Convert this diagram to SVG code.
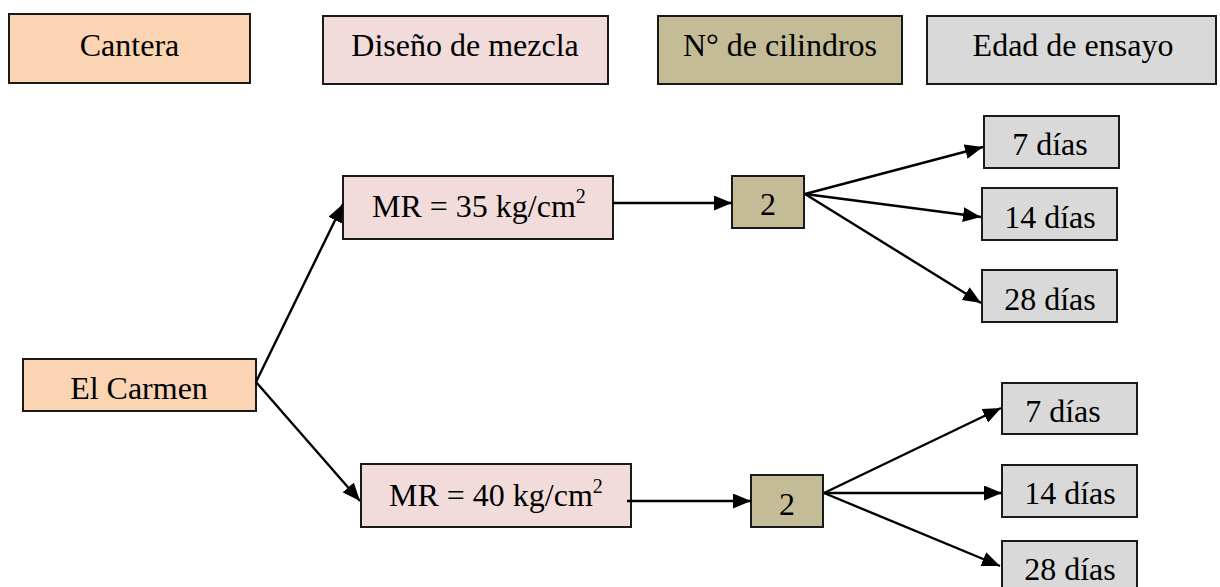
<svg xmlns="http://www.w3.org/2000/svg" width="1220" height="587" viewBox="0 0 1220 587">
  <style>
    text { font-family: "Liberation Serif", "Times New Roman", serif; font-size: 32px; fill: #000; }
    .c { text-anchor: middle; }
    .sup { font-size: 20px; }
    .box { stroke: #1a1a1a; stroke-width: 2; }
    .peach { fill: #FBD4B4; }
    .rose { fill: #F2DBDB; }
    .olive { fill: #C4BC96; }
    .grey { fill: #D9D9D9; }
    #connectors line { stroke: #000; stroke-width: 2.4; marker-end: url(#arrow); }
  </style>
  <defs>
    <marker id="arrow" markerUnits="userSpaceOnUse" markerWidth="19" markerHeight="15" refX="18" refY="7.5" orient="auto">
      <path d="M0,0 L18,7.5 L0,15 z" fill="#000"/>
    </marker>
  </defs>
  <rect width="1220" height="587" fill="#fff"/>

  <!-- column headers -->
  <g id="hdr-cantera">
    <rect class="box peach" x="9" y="14" width="241" height="69"/>
    <text class="c" x="129.5" y="56">Cantera</text>
  </g>
  <g id="hdr-diseno">
    <rect class="box rose" x="323" y="16" width="285" height="68"/>
    <text class="c" x="465" y="56">Diseño de mezcla</text>
  </g>
  <g id="hdr-cilindros">
    <rect class="box olive" x="658" y="16" width="244" height="68"/>
    <text class="c" x="780" y="56">N° de cilindros</text>
  </g>
  <g id="hdr-edad">
    <rect class="box grey" x="927" y="16" width="289" height="68"/>
    <text class="c" x="1073" y="56">Edad de ensayo</text>
  </g>

  <!-- source -->
  <g id="el-carmen">
    <rect class="box peach" x="23" y="359" width="233" height="52"/>
    <text class="c" x="139" y="399">El Carmen</text>
  </g>

  <!-- upper branch -->
  <g id="mr35">
    <rect class="box rose" x="343" y="176" width="270" height="63"/>
    <text x="372" y="217">MR = 35 kg/cm<tspan class="sup" dy="-14">2</tspan></text>
  </g>
  <g id="cil-top">
    <rect class="box olive" x="732" y="176" width="72" height="52"/>
    <text class="c" x="768" y="215">2</text>
  </g>
  <g id="top-7">
    <rect class="box grey" x="984" y="116" width="135" height="52"/>
    <text class="c" x="1050" y="155">7 días</text>
  </g>
  <g id="top-14">
    <rect class="box grey" x="982" y="188" width="135" height="52"/>
    <text class="c" x="1050" y="228">14 días</text>
  </g>
  <g id="top-28">
    <rect class="box grey" x="982" y="270" width="135" height="52"/>
    <text class="c" x="1050" y="310">28 días</text>
  </g>

  <!-- lower branch -->
  <g id="mr40">
    <rect class="box rose" x="361" y="464" width="270" height="63"/>
    <text x="389" y="506">MR = 40 kg/cm<tspan class="sup" dy="-13">2</tspan></text>
  </g>
  <g id="cil-bottom">
    <rect class="box olive" x="751" y="475" width="72" height="52"/>
    <text class="c" x="787" y="515">2</text>
  </g>
  <g id="bot-7">
    <rect class="box grey" x="1002" y="383" width="135" height="51"/>
    <text class="c" x="1063" y="422">7 días</text>
  </g>
  <g id="bot-14">
    <rect class="box grey" x="1002" y="465" width="135" height="52"/>
    <text class="c" x="1070" y="504">14 días</text>
  </g>
  <g id="bot-28">
    <rect class="box grey" x="1002" y="541" width="135" height="52"/>
    <text class="c" x="1070" y="580">28 días</text>
  </g>

  <g id="connectors">
    <line x1="256" y1="382" x2="343" y2="204"/>
    <line x1="256" y1="382" x2="360" y2="501"/>
    <line x1="613" y1="203" x2="732" y2="203"/>
    <line x1="805" y1="194" x2="983" y2="147"/>
    <line x1="805" y1="194" x2="981" y2="217"/>
    <line x1="805" y1="194" x2="981" y2="303"/>
    <line x1="627" y1="501" x2="751" y2="501"/>
    <line x1="824" y1="493" x2="1001" y2="408"/>
    <line x1="824" y1="493" x2="1002" y2="493"/>
    <line x1="824" y1="493" x2="1000" y2="566"/>
  </g>
</svg>
